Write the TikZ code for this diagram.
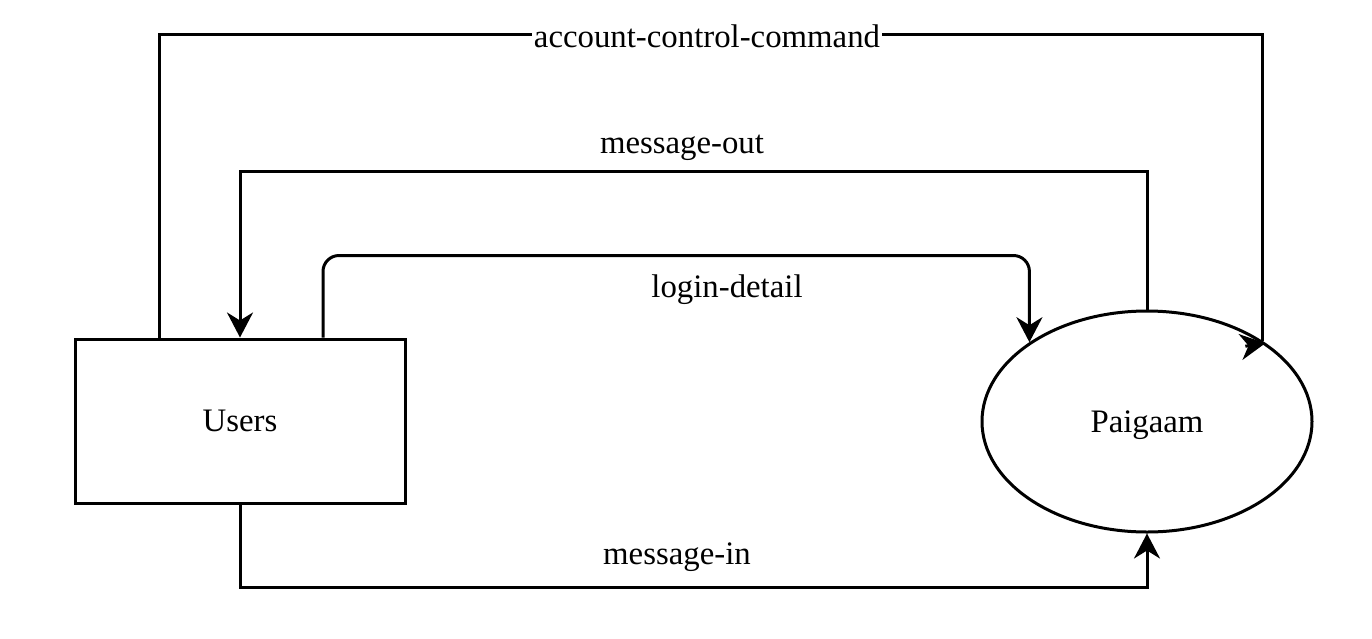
\documentclass[tikz,border=0pt]{standalone}
\usepackage{fontspec}
\setmainfont{Liberation Serif}
\usetikzlibrary{arrows.meta,shapes.geometric}
\begin{document}
\begin{tikzpicture}[x=0.5pt,y=-0.5pt,
  every node/.style={font=\fontsize{16.4pt}{20pt}\selectfont},
  line/.style={line width=1.5pt},
  flow/.style={line width=1.5pt,-{Stealth[length=12.5pt,width=13pt,inset=4pt]}},
  ent/.style={draw,line width=1.5pt,minimum width=165pt,minimum height=82pt,inner sep=0pt,text depth=0pt},
  proc/.style={draw,ellipse,line width=1.5pt,minimum width=165pt,minimum height=110.5pt,inner sep=0pt,text depth=0pt},
  lbl/.style={inner sep=1pt}]
\useasboundingbox (0,0) rectangle (1372,638);
\node[ent] (U) at (240,421) {Users};
\node[proc] (P) at (1147,421.5) {Paigaam};
% account-control-command
\draw[line] ([xshift=-40.5pt]U.north) -- ++(0,-303) -| (P.35);
\draw[flow] ([shift={(-17,5.5)}]P.35) -- ([shift={(3,2.5)}]P.35);
\node[lbl,fill=white] (acc) at (707,36) {account-control-command};
% message-out
\draw[flow] (P.north) -- ++(0,-138) -| (U.north);
\node[lbl] (mo) at (682,148) {message-out};
% login-detail
\draw[flow,rounded corners=8pt] ([xshift=41.5pt]U.north) -- ++(0,-82) -| (P.146.3);
\node[lbl] (ld) at (727,290) {login-detail};
% message-in
\draw[flow] (U.south) -- ++(0,83) -| (P.south);
\node[lbl] (mi) at (677,557) {message-in};
\end{tikzpicture}
\end{document}
